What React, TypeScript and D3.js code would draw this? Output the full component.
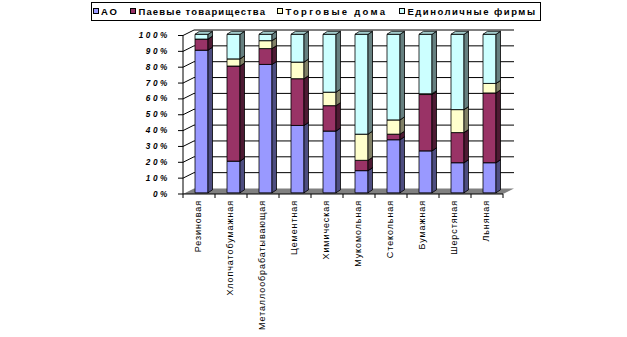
import React from 'react';
import * as d3 from 'd3';

const categories = ['Резиновая', 'Хлопчатобумажная', 'Металлообрабатывающая', 'Цементная', 'Химическая', 'Мукомольная', 'Стекольная', 'Бумажная', 'Шерстяная', 'Льняная'];
const seriesNames = ['АО', 'Паевые товарищества', 'Торговые дома', 'Единоличные фирмы'];
const ao = [90, 20, 81, 42.5, 39, 14, 33.5, 26.5, 19, 19];
const paevye = [7, 60, 10, 29.5, 16, 6.5, 3.5, 35.5, 19, 44];
const torgovye = [0, 4.5, 5, 10.5, 8.5, 16.5, 9, 0.5, 14.5, 6];
const edinolichnye = [3, 15.5, 4, 17.5, 36.5, 63, 54, 37.5, 47.5, 31];
const yTicks = [0, 10, 20, 30, 40, 50, 60, 70, 80, 90, 100];

const colors = ['#9999FF', '#993366', '#FFFFCC', '#CCFFFF'];
const sideColors = ['#4D4D80', '#4D1A33', '#808066', '#668080'];
const topColors = ['#7A7ACC', '#7A2952', '#CCCCA3', '#A3CCCC'];

const FONT = '"Liberation Sans", Arial, sans-serif';

export default function App() {
  const rows = categories.map((c, i) => ({
    cat: c,
    s0: ao[i],
    s1: paevye[i],
    s2: torgovye[i],
    s3: edinolichnye[i],
  }));
  const stack = d3.stack<any>().keys(['s0', 's1', 's2', 's3']);
  const layers = stack(rows);

  const x = d3.scaleBand<string>().domain(categories).range([183, 503]).paddingInner(0).paddingOuter(0);
  const y = d3.scaleLinear().domain([0, 100]).range([194, 35.5]);

  const axisX = 183;
  const depthX = 11;
  const depthY = -5.5;
  const wallRight = 514;
  const barW = 13;
  const barShiftX = 2.5;
  const barShiftY = -1.2;
  const bdx = 4.5;
  const bdy = -3;

  const legendItems = [
    { x: 93, tx: 101, len: 16 },
    { x: 130, tx: 138.5, len: 126.5 },
    { x: 277, tx: 285.5, len: 99.5 },
    { x: 399, tx: 407.5, len: 127.5 },
  ];

  return (
    <svg width={627} height={337} style={{ position: 'absolute', left: 0, top: 0, display: 'block', background: '#fff' }}>
      {/* floor */}
      <polygon
        points={`${axisX},${y(0)} ${x.range()[1]},${y(0)} ${x.range()[1] + depthX},${y(0) + depthY} ${axisX + depthX},${y(0) + depthY}`}
        fill="#808080"
      />
      {/* gridlines: left wall diagonals + back wall horizontals */}
      {yTicks.map((t) => (
        <g key={t}>
          {t > 0 && (
            <>
              <line x1={axisX} y1={y(t)} x2={axisX + depthX} y2={y(t) + depthY} stroke="#000" strokeWidth={1} />
              <line x1={axisX + depthX} y1={y(t) + depthY} x2={wallRight} y2={y(t) + depthY} stroke="#000" strokeWidth={1} />
            </>
          )}
          <line x1={axisX - 5} y1={y(t)} x2={axisX} y2={y(t)} stroke="#000" strokeWidth={1} />
          <text
            x={170}
            y={y(t)}
            textAnchor="end"
            dominantBaseline="central"
            fontFamily={FONT}
            fontSize={8.2}
            fontWeight="bold"
            fontStyle="italic"
            letterSpacing={2.6}
            fill="#000"
          >
            {t + '%'}
          </text>
        </g>
      ))}
      {/* axes */}
      <line x1={axisX} y1={y(0)} x2={axisX} y2={y(100)} stroke="#000" strokeWidth={1} />
      <line x1={axisX} y1={y(0)} x2={x.range()[1]} y2={y(0)} stroke="#000" strokeWidth={1} />
      {[...categories.map((c) => x(c) as number), x.range()[1]].map((px, i) => (
        <line key={i} x1={px} y1={y(0)} x2={px} y2={y(0) + 4} stroke="#000" strokeWidth={1} />
      ))}
      {/* bars */}
      {categories.map((c, ci) => {
        const cx = (x(c) as number) + x.bandwidth() / 2;
        const x0 = cx - barW / 2 + barShiftX;
        const x1 = x0 + barW;
        return (
          <g key={c}>
            {layers.map((layer, li) => {
              const d = layer[ci];
              if (d[1] - d[0] <= 0) return null;
              const yb = y(d[0]) + barShiftY;
              const yt = y(d[1]) + barShiftY;
              return (
                <g key={li} stroke="#000" strokeWidth={0.8} strokeLinejoin="round">
                  <rect x={x0} y={yt} width={barW} height={yb - yt} fill={colors[li]} />
                  <polygon
                    points={`${x1},${yb} ${x1 + bdx},${yb + bdy} ${x1 + bdx},${yt + bdy} ${x1},${yt}`}
                    fill={sideColors[li]}
                  />
                  <polygon
                    points={`${x0},${yt} ${x1},${yt} ${x1 + bdx},${yt + bdy} ${x0 + bdx},${yt + bdy}`}
                    fill={topColors[li]}
                  />
                </g>
              );
            })}
          </g>
        );
      })}
      {/* category labels */}
      {categories.map((c) => {
        const cx = (x(c) as number) + x.bandwidth() / 2 - 1.5;
        return (
          <text
            key={c}
            transform={`translate(${cx},200) rotate(-90)`}
            textAnchor="end"
            dominantBaseline="central"
            fontFamily={FONT}
            fontSize={9}
            letterSpacing={0.9}
            fill="#000"
          >
            {c}
          </text>
        );
      })}
      {/* legend */}
      <rect x={91.5} y={2.5} width={449} height={18} fill="#fff" stroke="#000" strokeWidth={1} />
      {seriesNames.map((s, i) => (
        <g key={s}>
          <rect x={legendItems[i].x + 0.5} y={8.5} width={5} height={5} fill={colors[i]} stroke="#000" strokeWidth={1} />
          <text
            x={legendItems[i].tx}
            y={11.5}
            dominantBaseline="central"
            fontFamily={FONT}
            fontSize={9.5}
            fontWeight="bold"
            textLength={legendItems[i].len}
            lengthAdjust="spacing"
            fill="#000"
          >
            {s}
          </text>
        </g>
      ))}
    </svg>
  );
}
